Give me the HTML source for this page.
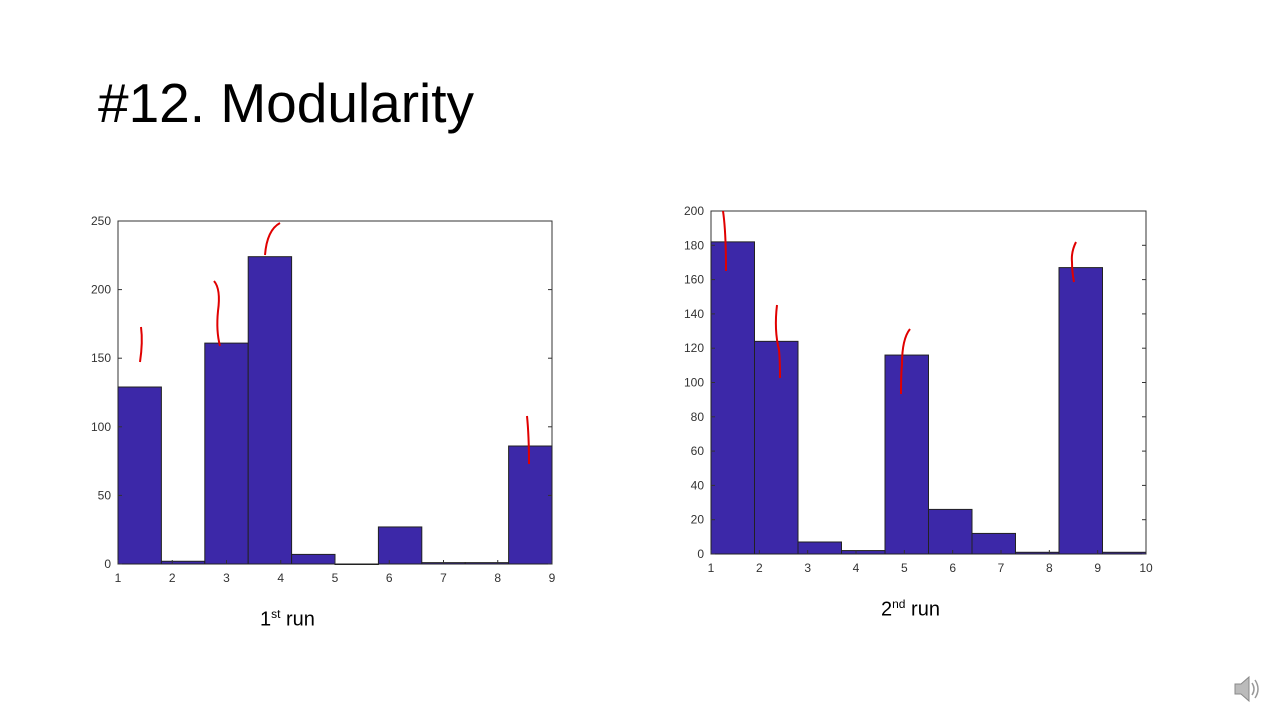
<!DOCTYPE html>
<html><head><meta charset="utf-8">
<style>
body{margin:0;width:1280px;height:720px;background:#fff;overflow:hidden;font-family:"Liberation Sans",sans-serif;position:relative}
#title{position:absolute;left:98px;top:71px;font-size:55px;color:#000;margin:0;font-weight:normal}
.cap{position:absolute;font-size:20px;color:#000}
svg{position:absolute;left:0;top:0}
</style></head>
<body>
<h1 id="title">#12. Modularity</h1>
<div class="cap" style="left:260px;top:607px">1<sup style="font-size:12px">st</sup> run</div>
<div class="cap" style="left:881px;top:597px">2<sup style="font-size:12px">nd</sup> run</div>
<svg id="s" width="1280" height="720"></svg>
<svg width="30" height="30" style="left:1232px;top:674px"><path d="M3 10h6l8-7v24l-8-7H3z" fill="#bbb" stroke="#888"/><path d="M20 9q4 6 0 12M23 6q6 9 0 18" stroke="#999" fill="none" stroke-width="1.5"/></svg>
<script>
const run1Values=[129,2,161,224,7,0,27,1,1,86];
const run1XTicks=[1,2,3,4,5,6,7,8,9];
const run1YTicks=[0,50,100,150,200,250];
const run2Values=[182,124,7,2,116,26,12,1,167,1];
const run2XTicks=[1,2,3,4,5,6,7,8,9,10];
const run2YTicks=[0,20,40,60,80,100,120,140,160,180,200];
const NS='http://www.w3.org/2000/svg';
const svg=document.getElementById('s');
function mk(t,a){const e=document.createElementNS(NS,t);for(const k in a)e.setAttribute(k,a[k]);svg.appendChild(e);return e;}
function chart(id,vals,xt,yt,L,R,T,B){
  const xmin=xt[0],xmax=xt[xt.length-1],ymax=yt[yt.length-1];
  const xs=v=>L+(v-xmin)/(xmax-xmin)*(R-L);
  const ys=v=>B-v/ymax*(B-T);
  const w=(xmax-xmin)/vals.length;
  const fr=mk('rect',{x:L,y:T,width:R-L,height:B-T,fill:'#fff',stroke:'#333','stroke-width':1});
  
  
  vals.forEach((v,i)=>{
    const x0=xs(xmin+i*w),x1=xs(xmin+(i+1)*w);
    const r=mk('rect',{x:x0,y:ys(v),width:x1-x0,height:Math.max(B-ys(v),0.5),fill:'#3c28a8',stroke:'#222','stroke-width':1});
    
    
  });
  xt.forEach(t=>{
    mk('line',{x1:xs(t),x2:xs(t),y1:B,y2:B-4,stroke:'#333'});
    const tx=mk('text',{x:xs(t),y:B+18,'text-anchor':'middle','font-size':12,fill:'#333'});tx.textContent=t;
    
    
  });
  yt.forEach(t=>{
    mk('line',{x1:L,x2:L+4,y1:ys(t),y2:ys(t),stroke:'#333'});
    mk('line',{x1:R,x2:R-4,y1:ys(t),y2:ys(t),stroke:'#333'});
    const tx=mk('text',{x:L-7,y:ys(t)+4,'text-anchor':'end','font-size':12,fill:'#333'});tx.textContent=t;
    
    
  });
}
chart('run1',run1Values,run1XTicks,run1YTicks,118,552,221,564);
chart('run2',run2Values,run2XTicks,run2YTicks,711,1146,211,554);
const marks=['M141 327q2 15 -1 35','M214 281q7 8 4 30q-2 20 2 35','M265 255q2 -25 15 -32','M527 416q2 20 2 48','M723 211q3 20 3 60','M777 305q-3 25 2 45q1 10 1 28','M910 329q-8 10 -8 35q-1 10 -1 30','M1076 242q-5 10 -4 20q0 10 2 20'];
marks.forEach(d=>{const p=mk('path',{d:d,stroke:'#e00000','stroke-width':2,fill:'none'});

});
</script>
</body></html>
